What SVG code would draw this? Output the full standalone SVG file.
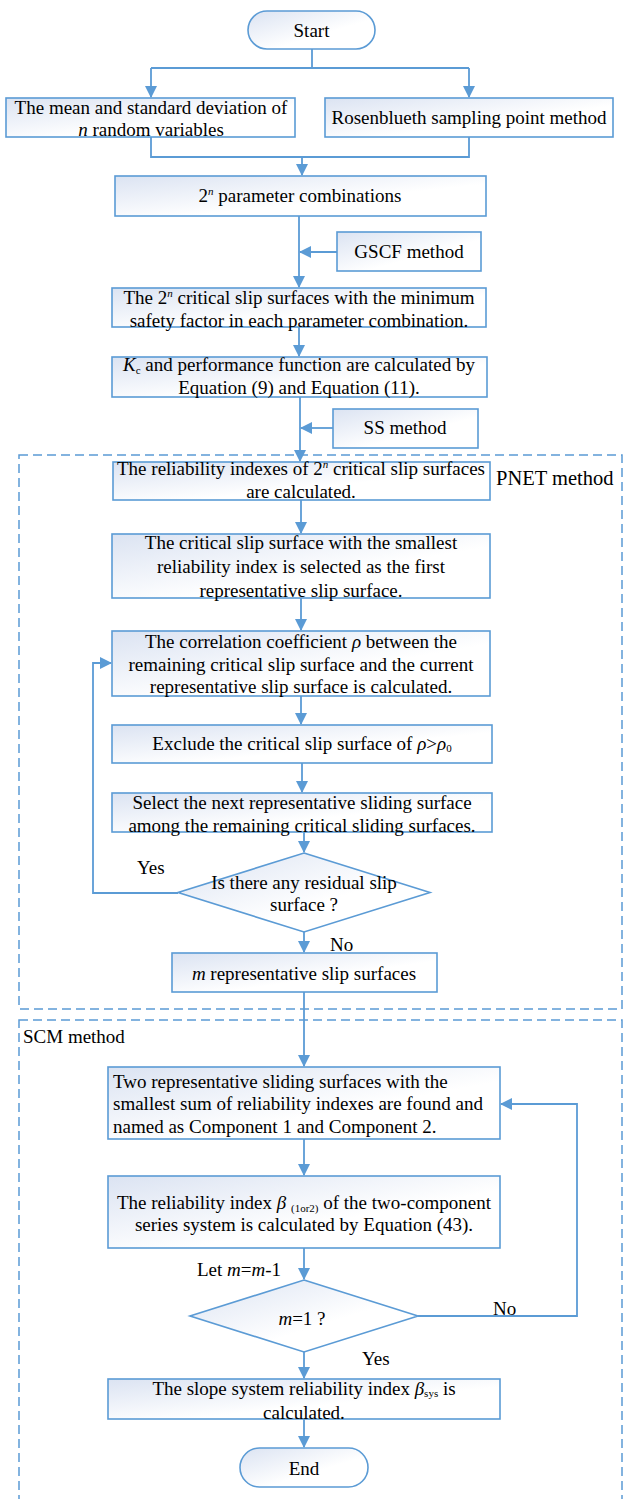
<svg xmlns="http://www.w3.org/2000/svg" width="625" height="1499" viewBox="0 0 625 1499">
<style>
.box{stroke:#5B9BD5;stroke-width:1.6;fill:url(#g)}
.ln{stroke:#5B9BD5;stroke-width:1.8;fill:none}
.dash{stroke:#5B9BD5;stroke-width:1.5;fill:none;stroke-dasharray:9 5}
text{font-family:"Liberation Serif","Times New Roman",serif;font-size:19px;fill:#000}
.c{text-anchor:middle}
.i{font-style:italic}
.s{font-size:11px}
.lab{font-size:20.5px}
</style>
<defs>
<linearGradient id="g" x1="0" y1="0" x2="1" y2="1">
<stop offset="0" stop-color="#dbe3f2"/>
<stop offset="0.6" stop-color="#ffffff"/>
</linearGradient>
<marker id="a" markerUnits="userSpaceOnUse" markerWidth="12" markerHeight="12" viewBox="0 0 12 12" refX="11" refY="6" orient="auto">
<path d="M0,0 L12,6 L0,12 Z" fill="#5B9BD5"/>
</marker>
</defs>

<g id="pnet-frame">
<rect class="dash" x="19" y="455" width="603" height="554"/>
<text class="lab" x="496" y="485">PNET method</text>
</g>
<g id="scm-frame">
<rect class="dash" x="19" y="1020" width="603" height="500"/>
<text x="23" y="1043">SCM method</text>
</g>

<g id="connectors">
<path class="ln" d="M312,49 V68 M151,68 H469"/>
<path class="ln" d="M151,68 V97" marker-end="url(#a)"/>
<path class="ln" d="M469,68 V97" marker-end="url(#a)"/>
<path class="ln" d="M151,137 V157 H469 V137"/>
<path class="ln" d="M302,157 V175" marker-end="url(#a)"/>
<path class="ln" d="M299,216 V287" marker-end="url(#a)"/>
<path class="ln" d="M337,252 H300" marker-end="url(#a)"/>
<path class="ln" d="M299,327 V356" marker-end="url(#a)"/>
<path class="ln" d="M300,397 V461" marker-end="url(#a)"/>
<path class="ln" d="M333,428 H301" marker-end="url(#a)"/>
<path class="ln" d="M301,500 V533" marker-end="url(#a)"/>
<path class="ln" d="M301,598 V630" marker-end="url(#a)"/>
<path class="ln" d="M301,696 V724" marker-end="url(#a)"/>
<path class="ln" d="M302,763 V792" marker-end="url(#a)"/>
<path class="ln" d="M304,832 V852" marker-end="url(#a)"/>
<path class="ln" d="M178,893 H93 V663 H111" marker-end="url(#a)"/>
<path class="ln" d="M304,932 V952" marker-end="url(#a)"/>
<path class="ln" d="M304,992 V1066" marker-end="url(#a)"/>
<path class="ln" d="M304,1139 V1175" marker-end="url(#a)"/>
<path class="ln" d="M304,1248 V1279" marker-end="url(#a)"/>
<path class="ln" d="M418,1316 H577 V1104 H501" marker-end="url(#a)"/>
<path class="ln" d="M304,1352 V1378" marker-end="url(#a)"/>
<path class="ln" d="M304,1419 V1447" marker-end="url(#a)"/>
<text x="137" y="874">Yes</text>
<text x="330" y="951">No</text>
<text x="197" y="1276">Let <tspan class="i">m</tspan>=<tspan class="i">m</tspan>-1</text>
<text x="493" y="1315">No</text>
<text x="362" y="1365">Yes</text>
</g>

<g id="start">
<rect class="box" x="248" y="11" width="127" height="38" rx="19"/>
<text class="c" x="311.5" y="37">Start</text>
</g>
<g id="mean-sd">
<rect class="box" x="6" y="98" width="289" height="39"/>
<text class="c" x="151" y="114">The mean and standard deviation of</text>
<text class="c" x="151" y="136"><tspan class="i">n</tspan> random variables</text>
</g>
<g id="rosenblueth">
<rect class="box" x="325" y="98" width="288" height="39"/>
<text class="c" x="469" y="124">Rosenblueth sampling point method</text>
</g>
<g id="combinations">
<rect class="box" x="115" y="176" width="371" height="40"/>
<text class="c" x="300" y="202">2<tspan class="i s" dy="-7">n</tspan><tspan dy="7"> parameter combinations</tspan></text>
</g>
<g id="gscf">
<rect class="box" x="337" y="232" width="144" height="39"/>
<text class="c" x="409" y="258">GSCF method</text>
</g>
<g id="critical-surfaces">
<rect class="box" x="112" y="288" width="374" height="39"/>
<text class="c" x="299" y="304">The 2<tspan class="i s" dy="-7">n</tspan><tspan dy="7"> critical slip surfaces with the minimum</tspan></text>
<text class="c" x="299" y="327">safety factor in each parameter combination.</text>
</g>
<g id="kc">
<rect class="box" x="112" y="357" width="375" height="40"/>
<text class="c" x="299" y="371"><tspan class="i">K</tspan><tspan class="s" dy="3">c</tspan><tspan dy="-3"> and performance function are calculated by</tspan></text>
<text class="c" x="299" y="394">Equation (9) and Equation (11).</text>
</g>
<g id="ss">
<rect class="box" x="333" y="409" width="145" height="39"/>
<text class="c" x="405" y="434">SS method</text>
</g>
<g id="reliability-indexes">
<rect class="box" x="113" y="462" width="377" height="38"/>
<text class="c" x="301" y="475">The reliability indexes of 2<tspan class="i s" dy="-7">n</tspan><tspan dy="7"> critical slip surfaces</tspan></text>
<text class="c" x="301" y="498">are calculated.</text>
</g>
<g id="first-representative">
<rect class="box" x="112" y="534" width="378" height="64"/>
<text class="c" x="301" y="549">The critical slip surface with the smallest</text>
<text class="c" x="301" y="573">reliability index is selected as the first</text>
<text class="c" x="301" y="597">representative slip surface.</text>
</g>
<g id="correlation">
<rect class="box" x="112" y="631" width="378" height="65"/>
<text class="c" x="301" y="648">The correlation coefficient <tspan class="i">ρ</tspan> between the</text>
<text class="c" x="301" y="671">remaining critical slip surface and the current</text>
<text class="c" x="301" y="693">representative slip surface is calculated.</text>
</g>
<g id="exclude">
<rect class="box" x="112" y="725" width="380" height="38"/>
<text class="c" x="302" y="750">Exclude the critical slip surface of <tspan class="i">ρ</tspan>&gt;<tspan class="i">ρ</tspan><tspan class="s" dy="2">0</tspan></text>
</g>
<g id="select-next">
<rect class="box" x="112" y="793" width="380" height="39"/>
<text class="c" x="302" y="809">Select the next representative sliding surface</text>
<text class="c" x="302" y="832">among the remaining critical sliding surfaces.</text>
</g>
<g id="residual-decision">
<path class="box" d="M304,853 L430,892.5 L304,932 L178,892.5 Z"/>
<text class="c" x="304" y="889">Is there any residual slip</text>
<text class="c" x="304" y="911">surface ?</text>
</g>
<g id="m-surfaces">
<rect class="box" x="172" y="953" width="265" height="39"/>
<text class="c" x="304" y="980"><tspan class="i">m</tspan> representative slip surfaces</text>
</g>
<g id="two-components">
<rect class="box" x="108" y="1067" width="392" height="72"/>
<text x="113" y="1088">Two representative sliding surfaces with the</text>
<text x="113" y="1110">smallest sum of reliability indexes are found and</text>
<text x="113" y="1133">named as Component 1 and Component 2.</text>
</g>
<g id="series-index">
<rect class="box" x="108" y="1176" width="392" height="72"/>
<text class="c" x="304" y="1209">The reliability index <tspan class="i">β</tspan> <tspan class="s" dy="3">(1or2)</tspan><tspan dy="-3"> of the two-component</tspan></text>
<text class="c" x="304" y="1231">series system is calculated by Equation (43).</text>
</g>
<g id="m-decision">
<path class="box" d="M304,1280 L418,1316 L304,1352 L190,1316 Z"/>
<text class="c" x="302" y="1325"><tspan class="i">m</tspan>=1 ?</text>
</g>
<g id="system-index">
<rect class="box" x="108" y="1379" width="392" height="40"/>
<text class="c" x="304" y="1395">The slope system reliability index <tspan class="i">β</tspan><tspan class="s" dy="2">sys</tspan><tspan dy="-2"> is</tspan></text>
<text class="c" x="304" y="1419">calculated.</text>
</g>
<g id="end">
<rect class="box" x="240" y="1448" width="128" height="39" rx="19.5"/>
<text class="c" x="304" y="1475">End</text>
</g>
</svg>
